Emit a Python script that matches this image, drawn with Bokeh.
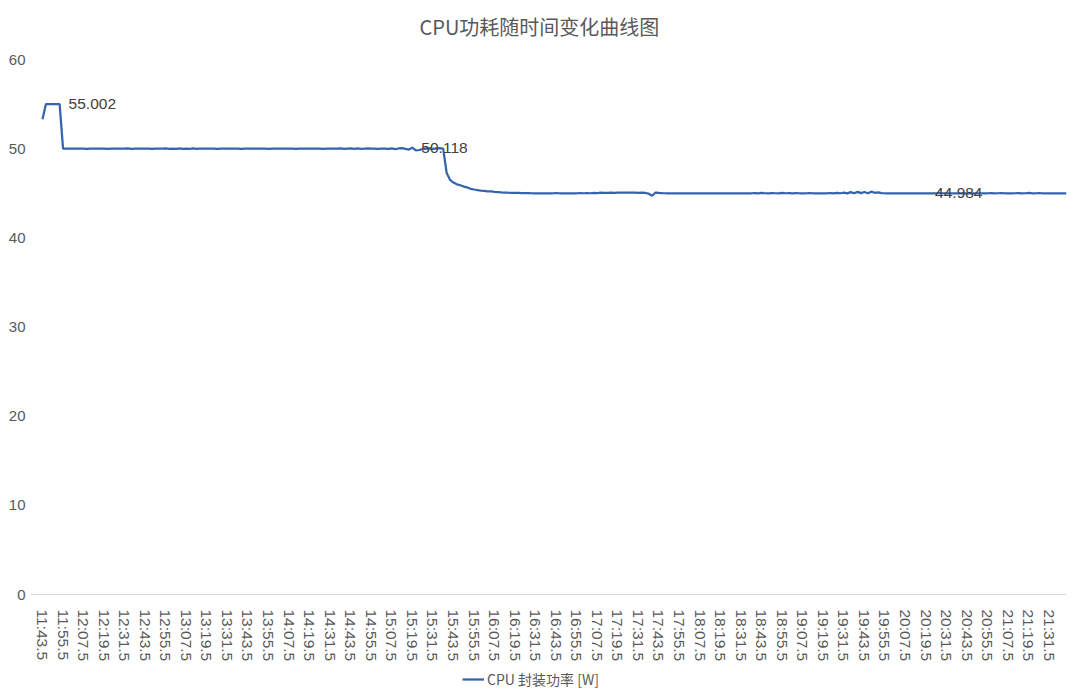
from bokeh.plotting import figure
from bokeh.models import Range1d, FixedTicker, Legend, LegendItem, LabelSet, ColumnDataSource
from bokeh.core.properties import value
from bokeh.embed import file_html
from bokeh.resources import INLINE

# ---------------- data ----------------
chart_title = "CPU功耗随时间变化曲线图"
series_name = "CPU 封装功率 [W]"

# time labels shown on the category axis (one every 6 samples, samples every 2 s)
tick_labels = [
    "11:43.5", "11:55.5", "12:07.5", "12:19.5", "12:31.5", "12:43.5", "12:55.5",
    "13:07.5", "13:19.5", "13:31.5", "13:43.5", "13:55.5", "14:07.5", "14:19.5",
    "14:31.5", "14:43.5", "14:55.5", "15:07.5", "15:19.5", "15:31.5", "15:43.5",
    "15:55.5", "16:07.5", "16:19.5", "16:31.5", "16:43.5", "16:55.5", "17:07.5",
    "17:19.5", "17:31.5", "17:43.5", "17:55.5", "18:07.5", "18:19.5", "18:31.5",
    "18:43.5", "18:55.5", "19:07.5", "19:19.5", "19:31.5", "19:43.5", "19:55.5",
    "20:07.5", "20:19.5", "20:31.5", "20:43.5", "20:55.5", "21:07.5", "21:19.5",
    "21:31.5",
]
samples_per_label = 6

# CPU package power [W], one value per sample
power = [
    53.3, 55.0, 55.0, 55.0, 55.0, 55.002, 50.0, 50.0, 50.0, 50.0,
    50.0, 50.01, 50.0, 49.99, 50.0, 50.0, 50.01, 50.0, 50.0, 49.99,
    50.0, 50.0, 50.01, 50.0, 50.0, 50.03, 49.98, 50.0, 50.0, 50.01,
    50.0, 50.0, 49.99, 50.0, 50.0, 50.0, 50.02, 49.98, 50.01, 49.97,
    50.02, 49.98, 50.0, 49.97, 50.02, 49.99, 50.0, 50.0, 50.01, 50.0,
    50.0, 49.99, 50.0, 50.0, 50.0, 50.01, 50.0, 50.0, 49.99, 50.0,
    50.0, 50.0, 50.01, 50.0, 50.0, 50.0, 49.99, 50.0, 50.0, 50.0,
    50.01, 50.0, 50.0, 50.0, 49.99, 50.0, 50.0, 50.01, 50.0, 50.0,
    50.0, 50.0, 49.99, 50.0, 50.0, 50.0, 50.01, 50.03, 49.97, 50.0,
    50.02, 49.98, 50.03, 49.99, 50.0, 50.02, 50.0, 50.0, 49.99, 50.0,
    50.01, 49.98, 50.03, 49.96, 50.02, 50.06, 49.97, 49.9, 50.118, 49.8,
    49.85, 49.95, 50.0, 50.02, 49.98, 50.03, 50.05, 50.0, 47.3, 46.5,
    46.2, 46.0, 45.9, 45.75, 45.65, 45.5, 45.42, 45.35, 45.3, 45.26,
    45.22, 45.2, 45.16, 45.13, 45.1, 45.08, 45.06, 45.05, 45.04, 45.03,
    45.02, 45.02, 45.01, 45.0, 45.0, 45.0, 44.99, 45.0, 45.0, 45.0,
    45.01, 45.0, 45.0, 45.0, 44.99, 45.0, 45.0, 45.01, 45.0, 45.02,
    45.0, 45.04, 45.02, 45.06, 45.03, 45.05, 45.06, 45.05, 45.07, 45.06,
    45.07, 45.06, 45.07, 45.06, 45.05, 45.06, 45.03, 44.95, 44.72, 45.08,
    45.03, 45.01, 45.0, 45.0, 45.0, 45.0, 45.0, 45.0, 45.0, 45.0,
    45.0, 45.0, 45.0, 45.0, 45.0, 45.0, 45.0, 45.0, 45.0, 45.0,
    45.0, 45.0, 45.0, 45.0, 45.0, 45.0, 45.0, 45.0, 45.02, 44.98,
    45.03, 45.0, 44.98, 45.02, 45.0, 44.98, 45.03, 45.0, 45.02, 44.99,
    45.01, 45.0, 45.0, 45.0, 45.01, 45.0, 45.0, 44.99, 45.0, 45.0,
    45.02, 44.98, 45.04, 45.0, 45.08, 44.98, 45.12, 45.0, 45.15, 45.02,
    45.14, 45.0, 45.18, 45.05, 45.1, 45.02, 45.0, 45.0, 45.0, 45.0,
    45.0, 45.0, 45.0, 45.0, 45.0, 45.0, 45.0, 44.99, 44.984, 45.0,
    45.0, 45.0, 45.01, 45.0, 45.0, 45.0, 45.0, 45.0, 45.0, 45.0,
    45.0, 45.0, 45.0, 45.0, 45.0, 45.0, 45.0, 45.01, 44.98, 45.0,
    45.02, 45.0, 45.0, 44.98, 45.0, 45.02, 44.99, 45.0, 45.03, 45.0,
    45.0, 45.01, 45.0, 45.0, 45.0, 45.0, 45.0, 45.0, 45.0, 45.0,
]

# samples that carry a data label
labelled_samples = [5, 108, 258]

y_ticks = [0, 10, 20, 30, 40, 50, 60]

# ---------------- figure ----------------
GREY = "#595959"
LINE = "#3564AC"
NUM_FONT = "Liberation Sans"
CJK_FONT = "Noto Sans CJK SC"

W, H = 1080, 698
FRAME_LEFT, FRAME_RIGHT = 30, 1066
FIRST_PT_X = 42                      # pixel column of the first sample
FRAME_TOP = 52                       # top of the plotting frame
TOP_TICK_Y, AXIS_Y = 59, 594         # pixel rows of y=60 and y=0
Y_MAX = 60
px_per_unit = (AXIS_Y - TOP_TICK_Y) / Y_MAX
y_end = Y_MAX + (TOP_TICK_Y - FRAME_TOP) / px_per_unit
y_start = -(H - AXIS_Y) / px_per_unit  # frame extends below the axis to hold labels & legend
n = len(power)
px_per_sample = (FRAME_RIGHT - FIRST_PT_X) / (n - 1)
x_start = -(FIRST_PT_X - FRAME_LEFT) / px_per_sample

sample_idx = list(range(n))

p = figure(
    width=W, height=H,
    output_backend="svg", toolbar_location=None,
    x_range=Range1d(x_start, n - 1),
    y_range=Range1d(y_start, y_end),
    min_border_left=FRAME_LEFT, min_border_right=W - FRAME_RIGHT,
    min_border_top=FRAME_TOP, min_border_bottom=0,
)

p.title.text = chart_title
p.title.align = "left"
p.title.offset = 389
p.title.vertical_align = "top"
p.title.text_font = CJK_FONT
p.title.text_font_size = "20px"
p.title.text_font_style = "normal"
p.title.text_color = GREY
p.title.standoff = 20

p.outline_line_color = None
p.xgrid.visible = False
p.ygrid.visible = False
p.background_fill_color = "white"
p.border_fill_color = "white"

# y axis
p.yaxis.ticker = FixedTicker(ticks=y_ticks)
p.yaxis.axis_line_color = None
p.yaxis.major_tick_line_color = None
p.yaxis.major_tick_out = 0
p.yaxis.major_tick_in = 0
p.yaxis.minor_tick_line_color = None
p.yaxis.major_label_standoff = 5
p.yaxis.major_label_text_font = NUM_FONT
p.yaxis.major_label_text_font_size = "15px"
p.yaxis.major_label_text_color = GREY

# x axis (category labels every 6 samples), pinned at y = 0
tick_pos = [k * samples_per_label for k in range(len(tick_labels))]
p.xaxis.fixed_location = 0
p.xaxis.ticker = FixedTicker(ticks=tick_pos)
p.xaxis.major_label_overrides = {pos: lab for pos, lab in zip(tick_pos, tick_labels)}
p.xaxis.major_label_orientation = "vertical"
p.xaxis.axis_line_color = "#D9D9D9"
p.xaxis.axis_line_width = 1
p.xaxis.major_tick_line_color = None
p.xaxis.major_tick_out = 0
p.xaxis.major_tick_in = 0
p.xaxis.minor_tick_line_color = None
p.xaxis.major_label_standoff = 15
p.xaxis.major_label_text_font = NUM_FONT
p.xaxis.major_label_text_font_size = "15.5px"
p.xaxis.major_label_text_color = GREY

# series
r = p.line(sample_idx, power, line_color=LINE, line_width=2.25)

# data labels
lab_src = ColumnDataSource(dict(
    x=labelled_samples,
    y=[power[i] for i in labelled_samples],
    t=[f"{power[i]:.3f}" for i in labelled_samples],
))
p.add_layout(LabelSet(
    x="x", y="y", text="t", source=lab_src,
    x_offset=9, y_offset=0,
    text_baseline="middle", text_align="left",
    text_font_size=value("15.5px"), text_font=value(NUM_FONT), text_color="#404040",
))

# legend at the bottom centre
legend = Legend(
    items=[LegendItem(label=series_name, renderers=[r])],
    location=(462 - FRAME_LEFT, 9), orientation="horizontal",
    background_fill_alpha=0, border_line_alpha=0,
    padding=0, margin=0, spacing=0,
    glyph_width=22, glyph_height=20, label_standoff=3,
    label_text_font=CJK_FONT, label_text_font_size="14px",
    label_text_color=GREY,
)
p.add_layout(legend, "center")

open("out.html", "w").write(file_html(p, INLINE))
